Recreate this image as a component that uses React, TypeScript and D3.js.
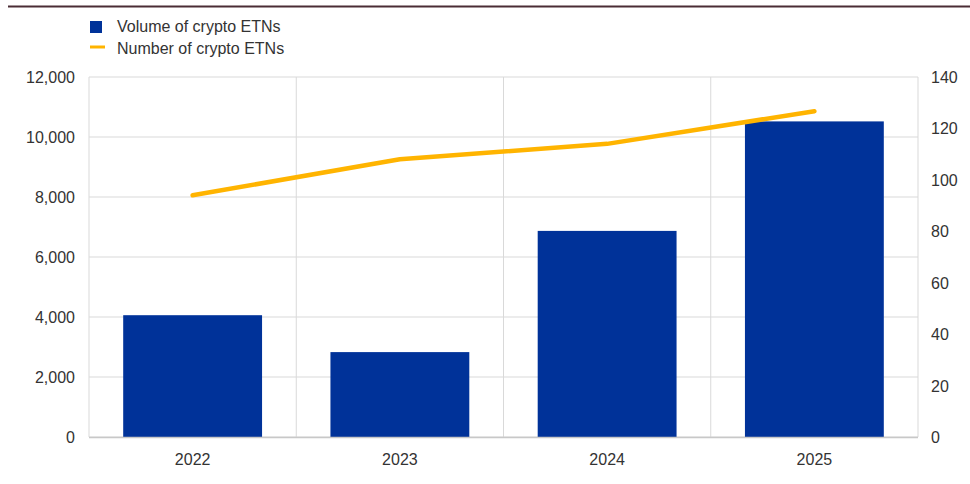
import React from "react";
import * as d3 from "d3";

const categories = ["2022", "2023", "2024", "2025"];
const volume = [4060, 2830, 6870, 10520];
const count = [94, 108, 114, 126.7];
const leftTicks = [0, 2000, 4000, 6000, 8000, 10000, 12000];
const rightTicks = [0, 20, 40, 60, 80, 100, 120, 140];
const seriesNames = ["Volume of crypto ETNs", "Number of crypto ETNs"];

const W = 970, H = 484;
const M = { left: 89, right: 918, top: 77, bottom: 437 };
const BLUE = "#003299";
const YELLOW = "#FFB400";
const GRID = "#d9d9d9";
const TEXT = "#333333";
const FONT = "Liberation Sans, Arial, sans-serif";
const FS = 16;

export default function App() {
  const x = d3.scaleBand().domain(categories).range([M.left, M.right]).paddingInner(0).paddingOuter(0);
  const yL = d3.scaleLinear().domain([0, 12000]).range([M.bottom, M.top]);
  const yR = d3.scaleLinear().domain([0, 140]).range([M.bottom, M.top]);
  const barW = x.bandwidth() * 0.67;
  const fmt = d3.format(",");
  const line = d3.line<number>()
    .x((_, i) => (x(categories[i]) as number) + x.bandwidth() / 2)
    .y((d) => yR(d));

  return (
    <svg width={W} height={H} style={{ position: "absolute", left: 0, top: 0, fontFamily: FONT }}>
      <rect x={0} y={0} width={W} height={H} fill="#fff" />
      <line x1={8} x2={W} y1={6.5} y2={6.5} stroke="#4b2c35" strokeWidth={2} />
      {/* legend */}
      <rect x={90} y={21} width={12} height={12} fill={BLUE} />
      <text x={117} y={32} fontSize={FS} fill={TEXT}>{seriesNames[0]}</text>
      <line x1={90} x2={105} y1={47} y2={47} stroke={YELLOW} strokeWidth={3} />
      <text x={117} y={54} fontSize={FS} fill={TEXT}>{seriesNames[1]}</text>
      {/* grid */}
      {leftTicks.map((t) => (
        <line key={"h" + t} x1={M.left} x2={M.right} y1={yL(t)} y2={yL(t)} stroke={GRID} strokeWidth={1} />
      ))}
      {categories.map((c) => (
        <line key={"v" + c} x1={x(c) as number} x2={x(c) as number} y1={M.top} y2={M.bottom} stroke={GRID} strokeWidth={1} />
      ))}
      <line x1={M.right} x2={M.right} y1={M.top} y2={M.bottom} stroke={GRID} strokeWidth={1} />
      {/* bars */}
      {volume.map((v, i) => {
        const cx = (x(categories[i]) as number) + x.bandwidth() / 2;
        return <rect key={i} x={cx - barW / 2} y={yL(v)} width={barW} height={M.bottom - yL(v)} fill={BLUE} />;
      })}
      <line x1={M.left} x2={M.right} y1={M.bottom + 0.5} y2={M.bottom + 0.5} stroke="#c8c8c8" strokeWidth={1.5} />
      {/* line */}
      <path d={line(count) || ""} fill="none" stroke={YELLOW} strokeWidth={4.5} strokeLinecap="round" strokeLinejoin="round" />
      {/* left axis */}
      {leftTicks.map((t) => (
        <text key={"l" + t} x={75} y={yL(t) + 6} fontSize={FS} fill={TEXT} textAnchor="end">{fmt(t)}</text>
      ))}
      {rightTicks.map((t) => (
        <text key={"r" + t} x={931} y={yR(t) + 6} fontSize={FS} fill={TEXT} textAnchor="start">{t}</text>
      ))}
      {categories.map((c) => (
        <text key={"c" + c} x={(x(c) as number) + x.bandwidth() / 2} y={465} fontSize={FS} fill={TEXT} textAnchor="middle">{c}</text>
      ))}
    </svg>
  );
}
